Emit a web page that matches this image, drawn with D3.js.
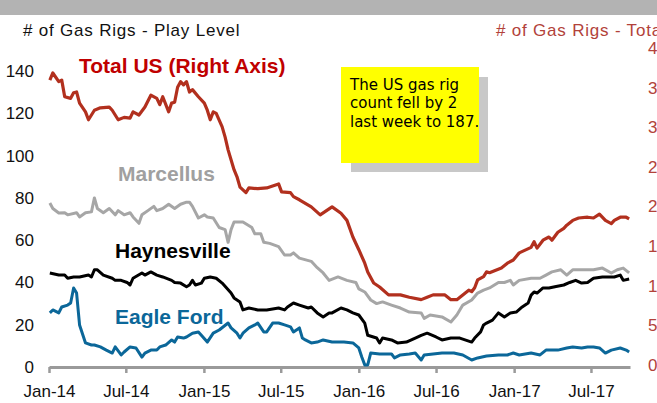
<!DOCTYPE html>
<html>
<head>
<meta charset="utf-8">
<script src="https://cdn.jsdelivr.net/npm/d3@7"></script>
<style>
  html, body { margin: 0; padding: 0; background: #fff; }
  svg { display: block; }
  text { font-family: "Liberation Sans", Arial, sans-serif; }
</style>
</head>
<body>
<svg id="chart" width="657" height="403"></svg>
<script>
// Weekly rig counts, [week number since first report, rigs]
const startDate = new Date(2014, 0, 3);

const totalUS = [[0,362],[1,371],[3,360],[4,362],[5,341],[7,339],[8,346],[9,347],[10,333],[12,322],[13,312],[15,324],[17,327],[20,328],[21,324],[23,312],[25,315],[27,314],[28,322],[30,318],[32,328],[34,343],[36,339],[37,331],[38,341],[40,322],[41,333],[42,334],[43,353],[44,360],[45,356],[46,360],[47,347],[48,350],[50,341],[52,333],[53,324],[54,312],[55,322],[56,320],[58,303],[59,290],[60,274],[62,249],[63,240],[64,227],[66,220],[67,226],[70,225],[73,226],[77,231],[78,221],[81,220],[82,215],[84,211],[88,202],[91,192],[95,202],[98,194],[100,185],[102,164],[104,148],[106,131],[107,120],[109,106],[111,101],[114,91],[118,91],[121,88],[125,85],[127,88],[129,91],[133,91],[135,85],[137,85],[139,91],[141,97],[142,95],[143,100],[144,110],[146,114],[147,120],[148,119],[152,125],[154,131],[156,135],[158,144],[162,151],[163,158],[164,150],[166,160],[168,164],[169,160],[171,170],[173,175],[174,179],[176,185],[178,188],[181,189],[183,188],[185,193],[187,185],[189,181],[190,185],[192,189],[194,189],[195,187]];

const marcellus = [[0,77.6],[1,75],[3,72.9],[5,73],[6,72],[9,73],[10,71],[12,73],[14,73.4],[15,80],[16,75],[18,73],[20,75],[22,72],[23,74],[25,72],[27,73],[28,71],[30,68],[31,72],[33,74],[35,76],[36,74],[38,75],[40,77],[42,75],[44,77],[46,78],[47,78],[48,76],[50,70.5],[52,72],[53,71],[55,70.5],[57,66],[59,65],[60,59],[61,65],[62,68.6],[65,68.6],[68,66],[69,63],[71,63],[72,59],[74,58.5],[77,57],[79,53],[81,53],[82,54],[84,51.5],[88,50],[90,47],[92,44.5],[94,41],[97,42.6],[100,41],[103,40],[104,37],[106,35.5],[108,31.7],[110,30],[112,30.8],[115,29.3],[118,27.9],[121,26],[125,25.6],[126,23],[128,24.6],[132,23.7],[135,21.3],[137,24.6],[139,29.3],[142,31.7],[144,35],[146,36.4],[148,37.4],[151,40],[153,40],[155,41],[156,38.8],[158,41],[162,42],[165,42],[167,43.5],[169,45],[172,46],[174,43.5],[176,46],[180,46],[183,46],[186,46.8],[189,44.5],[191,46],[193,46.8],[195,44.5]];

const haynesville = [[0,44.5],[3,43.5],[5,43.5],[6,42],[8,42.6],[10,42.6],[13,43.5],[14,42.6],[15,46],[16,46],[18,43.5],[21,42],[22,41],[24,41],[26,40],[27,38.8],[28,42],[31,44.5],[32,43.5],[34,45],[36,43.5],[38,42.6],[41,41],[42,40],[44,39.7],[46,38],[47,38.8],[48,41],[49,38.8],[51,39.7],[52,42],[54,42.6],[56,42],[58,39.7],[61,35],[62,32.7],[64,30.8],[65,27],[67,27.9],[70,27],[73,27],[77,27.9],[79,27],[80,28.4],[82,30.3],[84,29.3],[87,27.9],[88,28.4],[90,25.6],[92,23.7],[94,25.6],[95,25.6],[98,27.9],[100,27],[102,25.6],[104,24.6],[106,20.8],[107,15],[110,13.7],[111,11.4],[112,13.7],[115,12.8],[117,11.4],[120,11.8],[123,13.7],[125,15],[127,16],[130,14.2],[132,12.8],[135,13.7],[138,13.7],[142,11.8],[143,13.7],[145,16.6],[146,19.9],[147,20.8],[149,22.2],[151,25.6],[153,23.7],[155,25.6],[157,26],[159,28.4],[161,30.3],[162,34],[163,35.5],[164,35],[166,37.4],[168,37.4],[170,38],[173,38.8],[175,40],[177,41],[179,39.7],[181,40],[183,42],[186,42.6],[189,42.6],[190,42.6],[192,43.5],[193,41],[195,41.6]];

const eagleFord = [[0,25.6],[1,27],[3,25.6],[4,28.4],[6,29.3],[7,30.3],[8,37.4],[9,35],[10,19.9],[12,11.4],[14,10.4],[15,10.4],[17,9.5],[19,8],[21,6.6],[22,9.5],[24,5.7],[25,7.1],[27,9.5],[29,9],[31,4.7],[32,6.6],[34,8],[36,8],[37,9.5],[39,10.4],[41,12.8],[42,11.8],[43,14.2],[45,13.7],[46,14.2],[48,16],[50,16.6],[51,15],[53,11.8],[55,16],[57,17.5],[60,20.8],[61,18.5],[63,16],[64,13.7],[65,16],[67,18.5],[69,19.9],[70,20.8],[72,16.6],[73,16.6],[75,20.8],[77,20.8],[79,19.9],[81,19],[82,16.6],[84,18.5],[85,13.7],[86,12.8],[88,11.4],[90,11.8],[92,12.8],[95,11.8],[99,11.8],[102,11.4],[104,9],[105,4.7],[106,1],[107,1],[108,6.6],[111,6.2],[115,6.2],[116,4.3],[118,5.7],[121,6.2],[123,6.6],[125,3.3],[126,5.7],[129,6.2],[132,6.6],[136,6.6],[139,5.7],[142,3.3],[144,4.3],[147,5.2],[151,5.7],[154,5.7],[156,6.6],[158,5.7],[162,6.6],[165,5.7],[167,8],[171,8],[174,9],[176,9.5],[179,9],[181,9.5],[183,9.5],[185,9],[187,6.6],[189,8],[192,9],[194,8],[195,7.1]];

const leftTicks = [0, 20, 40, 60, 80, 100, 120, 140];
const rightTicks = [0, 50, 100, 150, 200, 250, 300, 350, 400];
const noteLines = ["The US gas rig", "count fell by 2", "last week to 187."];

const svg = d3.select("#chart");
const W = 657;

const x = d3.scaleTime()
  .domain([new Date(2014, 0, 1), new Date(2017, 9, 1)])
  .range([49, 630]);
const yL = d3.scaleLinear().domain([0, 150]).range([367, 50]);
const yR = d3.scaleLinear().domain([0, 400]).range([367, 50]);

const weekDate = w => d3.timeDay.offset(startDate, w * 7);

// header band
svg.append("rect").attr("x", 0).attr("y", 0).attr("width", W).attr("height", 15).attr("fill", "#b3b3b3");

// axis titles
svg.append("text").attr("x", 23).attr("y", 36)
  .attr("font-size", 17).attr("letter-spacing", 0.8).attr("fill", "#111")
  .text("# of Gas Rigs - Play Level");
svg.append("text").attr("x", 496).attr("y", 36)
  .attr("font-size", 17).attr("letter-spacing", 0.8).attr("fill", "#b2423a")
  .text("# of Gas Rigs - Total");

// left axis labels
const gl = svg.append("g").attr("transform", "translate(34,0)")
  .call(d3.axisLeft(yL).tickValues(leftTicks).tickSize(0).tickPadding(0));
gl.select(".domain").remove();
gl.selectAll("text").attr("font-size", 17).attr("fill", "#111")
  .style("font-family", "'Liberation Sans', Arial, sans-serif");

// right axis labels
const gr = svg.append("g").attr("transform", "translate(648,-2)")
  .call(d3.axisRight(yR).tickValues(rightTicks).tickSize(0).tickPadding(0));
gr.select(".domain").remove();
gr.selectAll("text").attr("font-size", 17).attr("fill", "#b2423a")
  .style("font-family", "'Liberation Sans', Arial, sans-serif");

// x axis
const gx = svg.append("g").attr("transform", "translate(0,367)")
  .call(d3.axisBottom(x).ticks(d3.timeMonth.every(6)).tickFormat(d3.timeFormat("%b-%y"))
    .tickSizeInner(6).tickSizeOuter(0).tickPadding(12));
gx.select(".domain").attr("stroke", "#9a9a9a").attr("stroke-width", 3);
gx.selectAll(".tick line").attr("stroke", "#9a9a9a").attr("stroke-width", 2.5);
gx.selectAll("text").attr("font-size", 17).attr("fill", "#111")
  .style("font-family", "'Liberation Sans', Arial, sans-serif");

// series lines
const series = [
  { data: marcellus, y: yL, color: "#a6a6a6", width: 3 },
  { data: haynesville, y: yL, color: "#000000", width: 3 },
  { data: eagleFord, y: yL, color: "#0b6799", width: 3 },
  { data: totalUS, y: yR, color: "#b2301e", width: 3.2 }
];
series.forEach(s => {
  const line = d3.line().x(d => x(weekDate(d[0]))).y(d => s.y(d[1]));
  svg.append("path").datum(s.data)
    .attr("fill", "none").attr("stroke", s.color).attr("stroke-width", s.width)
    .attr("stroke-linejoin", "round").attr("d", line);
});

// series labels
const labels = [
  { text: "Total US (Right Axis)", x: 79, y: 73, color: "#c00000" },
  { text: "Marcellus", x: 118, y: 181, color: "#a0a0a0" },
  { text: "Haynesville", x: 115, y: 258, color: "#000000" },
  { text: "Eagle Ford", x: 115, y: 324, color: "#0b6799" }
];
labels.forEach(l => {
  svg.append("text").attr("x", l.x).attr("y", l.y)
    .attr("font-size", 21).attr("font-weight", "bold").attr("fill", l.color).text(l.text);
});

// note box with drop shadow
svg.append("rect").attr("x", 351).attr("y", 77).attr("width", 137).attr("height", 95).attr("fill", "#c8c8c8");
svg.append("rect").attr("x", 341).attr("y", 67).attr("width", 138).attr("height", 96).attr("fill", "#ffff00");
svg.append("text").attr("x", 350).attr("y", 90)
  .attr("font-size", 15).attr("fill", "#000")
  .style("font-family", "'Comic Sans MS', 'DejaVu Sans', sans-serif")
  .selectAll("tspan").data(noteLines).join("tspan")
  .attr("x", 350).attr("dy", (d, i) => i === 0 ? 0 : 18.4).text(d => d);
</script>
</body>
</html>
